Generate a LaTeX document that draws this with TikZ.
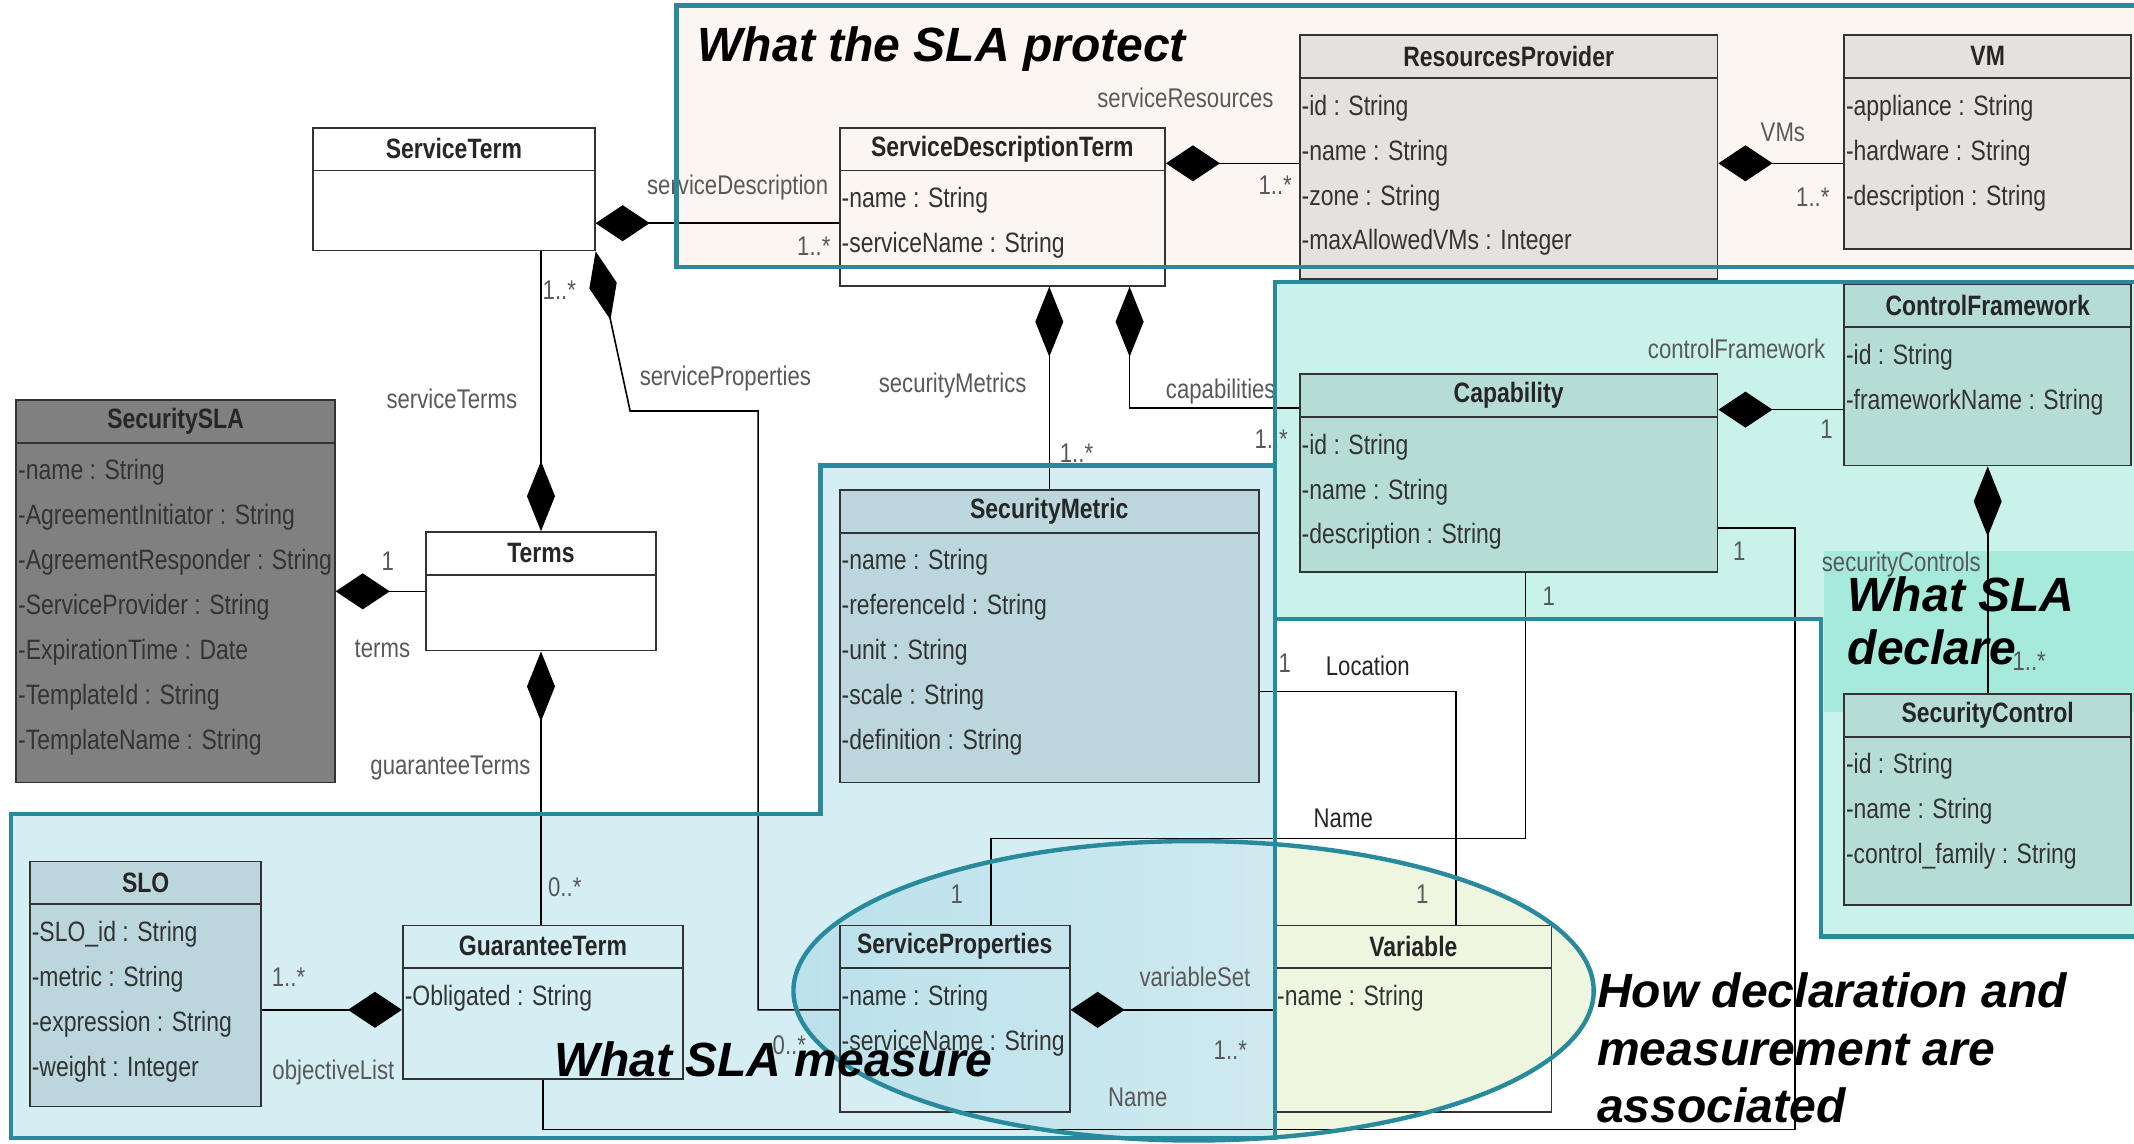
\documentclass[tikz,border=0pt]{standalone}
\usepackage{fontspec}
\setmainfont{Liberation Sans}
\newfontfamily\umlfont[FakeStretch=0.82]{Liberation Sans}
\usetikzlibrary{arrows.meta,calc,fit}

\definecolor{framecol}{HTML}{2A8A9D}
\definecolor{protectfill}{HTML}{FCF6F3}
\definecolor{declarefill}{HTML}{C9F3EA}
\definecolor{measurefill}{HTML}{D5EEF3}
\definecolor{hilite}{HTML}{A6EADC}
\definecolor{greybox}{HTML}{E4E1DF}
\definecolor{mintbox}{HTML}{B5DDD5}
\definecolor{bluebox}{HTML}{BBD6DC}
\definecolor{slabox}{HTML}{808080}
\definecolor{ellleft}{HTML}{BBE1EB}
\definecolor{ellmid}{HTML}{DCF0F2}
\definecolor{ellright}{HTML}{EEF6E0}

\tikzset{
  classbox/.style={draw=black!80, line width=0.9pt, inner sep=0pt},
  classtitle/.style={font=\umlfont\fontsize{14}{16}\selectfont\bfseries, text=black!85, inner sep=0pt},
  classattr/.style={font=\umlfont\fontsize{14}{16}\selectfont, text=black!80, inner sep=1pt, anchor=west},
  lbl/.style={font=\umlfont\fontsize{13.5}{16}\selectfont, text=black!65, inner sep=0pt},
  comph/.style={{Diamond[length=27pt,width=18pt]}-},
  compv/.style={{Diamond[length=35pt,width=14pt]}-},
  frame/.style={draw=framecol, line width=2.2pt},
  bigtext/.style={font=\fontsize{24}{27}\selectfont\bfseries\itshape, inner sep=0pt, align=left, anchor=west}
}

% class box: name, options, corners, title, attributes
\newcommand{\umlclass}[5]{%
  \node[classbox,#2,fit={#3}] (#1) {};
  \draw[black!80, line width=0.9pt] ($(#1.north west)+(0,32)$) -- ($(#1.north east)+(0,32)$);
  \node[classtitle] (#1-t) at ($(#1.north)+(0,16)$) {#4};
  \foreach \a [count=\k from 0] in {#5}
    \node[classattr] (#1-a\k) at ($(#1.north west)+(0,54+33*\k)$) {\ignorespaces\a};
}

\begin{document}
\begin{tikzpicture}[x=0.68pt, y=-0.68pt, line width=0.8pt]
\useasboundingbox (0,0) rectangle (1568,840);
\clip (0,0) rectangle (1568,840);
\fill[white] (0,0) rectangle (1568,840);

% regions
\fill[protectfill] (497,4) rectangle (1590,196);
\fill[declarefill] (937,207) -- (1590,207) -- (1590,688) -- (1338,688) -- (1338,455) -- (937,455) -- cycle;
\fill[measurefill] (8,598) -- (603,598) -- (603,342) -- (937,342) -- (937,836) -- (8,836) -- cycle;
\begin{scope}
  \clip (0,0) rectangle (937,840);
  \shade[left color=ellleft, right color=ellmid] (877,728) ellipse [x radius=294, y radius=110];
\end{scope}
\begin{scope}
  \clip (937,0) rectangle (1568,840);
  \fill[ellright] (877,728) ellipse [x radius=294, y radius=110];
\end{scope}
\fill[hilite] (1340,405) rectangle (1590,523);

% classes
\umlclass{ST}{fill=white}{(230,94) (437,184)}{ServiceTerm}{}
\umlclass{SDT}{}{(617,94) (856,210)}{ServiceDescriptionTerm}{-name : String, -serviceName : String}
\umlclass{RP}{fill=greybox}{(955,26) (1262,205)}{ResourcesProvider}{-id : String, -name : String, -zone : String, -maxAllowedVMs : Integer}
\umlclass{VM}{fill=greybox}{(1355,26) (1566,183)}{VM}{-appliance : String, -hardware : String, -description : String}
\umlclass{CF}{fill=mintbox}{(1355,209) (1566,342)}{ControlFramework}{-id : String, -frameworkName : String}
\umlclass{CAP}{fill=mintbox}{(955,275) (1262,420)}{Capability}{-id : String, -name : String, -description : String}
\umlclass{SSLA}{fill=slabox}{(12,294) (246,575)}{SecuritySLA}{-name : String, -AgreementInitiator : String, -AgreementResponder : String, -ServiceProvider : String, -ExpirationTime : Date, -TemplateId : String, -TemplateName : String}
\umlclass{TM}{fill=white}{(313,391) (482,478)}{Terms}{}
\umlclass{SM}{fill=bluebox}{(617,360) (925,575)}{SecurityMetric}{-name : String, -referenceId : String, -unit : String, -scale : String, -definition : String}
\umlclass{SC}{fill=mintbox}{(1355,510) (1566,665)}{SecurityControl}{-id : String, -name : String, -control\_family : String}
\umlclass{SLO}{fill=bluebox}{(22,633) (192,813)}{SLO}{-SLO\_id : String, -metric : String, -expression : String, -weight : Integer}
\umlclass{GT}{}{(296,680) (502,793)}{GuaranteeTerm}{-Obligated : String}
\umlclass{SP}{}{(617,680) (786,817)}{ServiceProperties}{-name : String, -serviceName : String}
\umlclass{VAR}{}{(937,680) (1140,817)}{Variable}{-name : String}

% compositions
\draw[comph] (ST.east |- 0,164) -- (SDT.west |- 0,164)
  node[lbl] (l-sd) at (542,138) {serviceDescription}
  node[lbl] (m-sd) at (598,181) {1..*};
\draw[compv] (TM.north) -- (ST.south -| TM.north)
  node[lbl] (m-st) at (411,213) {1..*}
  node[lbl] (l-st) at (332,293) {serviceTerms};
\draw[compv] (ST.south east) -- (463,302) -- (557,302) -- (557,742) -- (SP.west |- 0,742)
  node[lbl] (l-sp) at (533,278) {serviceProperties}
  node[lbl] (m-sp) at (580,768) {0..*};
\draw[compv] (SDT.south -| SM.north) -- (SM.north)
  node[lbl] (l-sm) at (700,283) {securityMetrics}
  node[lbl] (m-sm) at (791,333) {1..*};
\draw[compv] (SDT.south -| 830,0) -- (830,300) -- (CAP.west |- 0,300)
  node[lbl] (l-cap) at (897,288) {capabilities}
  node[lbl] (m-cap) at (934,323) {1..*};
\draw[comph] (SDT.east |- 0,120) -- (RP.west |- 0,120)
  node[lbl] (l-rp) at (871,72) {serviceResources}
  node[lbl] (m-rp) at (937,136) {1..*};
\draw[comph] (RP.east |- 0,120) -- (VM.west |- 0,120)
  node[lbl] (l-vm) at (1310,97) {VMs}
  node[lbl] (m-vm) at (1332,145) {1..*};
\draw[comph] (CAP.east |- 0,301) -- (CF.west |- 0,301)
  node[lbl] (l-cf) at (1276,256) {controlFramework}
  node[lbl] (m-cf) at (1342,315) {1};
\draw[compv] (CF.south) -- (SC.north)
  node[lbl] (l-sc) at (1397,415) {securityControls}
  node[lbl] (m-sc) at (1491,486) {1..*};
\draw[comph] (SSLA.east |- TM.west) -- (TM.west)
  node[lbl] (m-tm) at (285,412) {1}
  node[lbl] (l-tm) at (281,477) {terms};
\draw[compv] (TM.south) -- (TM.south |- GT.north)
  node[lbl] (l-gt) at (331,564) {guaranteeTerms}
  node[lbl] (m-gt) at (415,652) {0..*};
\draw[comph] (GT.west |- 0,742) -- (SLO.east |- 0,742)
  node[lbl] (m-slo) at (212,718) {1..*}
  node[lbl] (l-slo) at (245,788) {objectiveList};
\draw[comph] (SP.east |- 0,742) -- (VAR.west |- 0,742)
  node[lbl] (l-var) at (878,718) {variableSet}
  node[lbl] (m-var) at (904,772) {1..*}
  node[lbl] (n-var) at (836,806) {Name};

% associations
\draw (SM.east |- 0,508) -| (VAR.north -| 1070,0)
  node[lbl] (m-loc) at (944,487) {1}
  node[lbl, text=black!85] (l-loc) at (1005,489) {Location}
  node[lbl] (m-loc2) at (1045,657) {1};
\draw (CAP.south -| 1121,0) |- (728,616) -- (SP.north -| 728,0)
  node[lbl] (m-nm) at (1138,438) {1}
  node[lbl, text=black!85] (l-nm) at (987,601) {Name}
  node[lbl] (m-nm2) at (703,657) {1};
\draw (CAP.east |- 0,388) -| (1319,830) -| (GT.south)
  node[lbl] (m-cg) at (1278,405) {1};

% region borders
\draw[frame] (497,4) rectangle (1590,196);
\draw[frame] (937,207) -- (1590,207) -- (1590,688) -- (1338,688) -- (1338,455) -- (937,455) -- cycle;
\draw[frame] (8,598) -- (603,598) -- (603,342) -- (937,342) -- (937,836) -- (8,836) -- cycle;
\draw[frame] (877,728) ellipse [x radius=294, y radius=110];

% region titles
\node[bigtext] (t-protect) at (512,36) {What the SLA protect};
\node[bigtext, font=\fontsize{24}{26.5}\selectfont\bfseries\itshape] (t-declare) at (1357,456) {What SLA\\declare};
\node[bigtext] (t-measure) at (407,778) {What SLA measure};
\node[bigtext, font=\fontsize{24}{28.6}\selectfont\bfseries\itshape] (t-assoc) at (1173,770) {How declaration and\\measurement are\\associated};
\end{tikzpicture}
\end{document}
